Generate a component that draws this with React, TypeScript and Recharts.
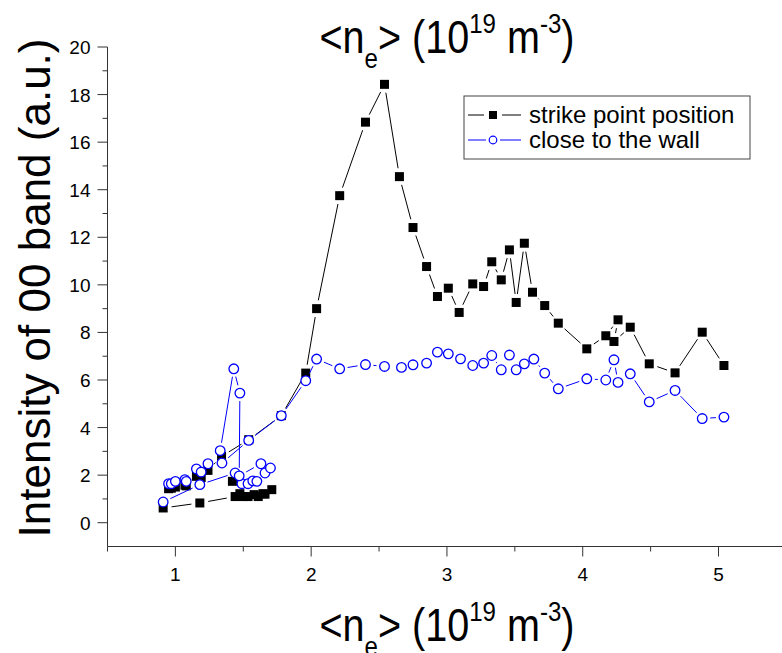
import React from "react";
import { ScatterChart, Scatter, XAxis, YAxis } from "recharts";

/* strike point position, main scan (black squares) */
const strikeX = [0.95, 0.97, 1.0, 1.07, 1.08, 1.155, 1.19, 1.24, 1.34, 1.54, 1.78, 1.96, 2.04, 2.21, 2.4, 2.54, 2.65, 2.75, 2.85, 2.93, 3.01, 3.09, 3.19, 3.27, 3.33, 3.4, 3.46, 3.51, 3.57, 3.63, 3.72, 3.82, 4.03, 4.17, 4.26, 4.23, 4.35, 4.49, 4.68, 4.88, 5.04];
const strikeY = [1.43, 1.45, 1.5, 1.58, 1.55, 1.95, 1.9, 2.2, 2.79, 3.49, 4.5, 6.29, 9.0, 13.75, 16.84, 18.43, 14.55, 12.41, 10.77, 9.51, 9.86, 8.84, 10.04, 9.93, 10.97, 10.21, 11.47, 9.26, 11.75, 9.69, 9.13, 8.39, 7.31, 7.86, 8.53, 7.62, 8.22, 6.68, 6.3, 8.01, 6.61];

/* strike point position, low density branch */
const strikeLowX = [0.91, 1.18, 1.44, 1.5, 1.535, 1.58, 1.61, 1.66, 1.71, 1.645, 1.475, 1.42];
const strikeLowY = [0.62, 0.83, 1.1, 1.1, 1.1, 1.18, 1.1, 1.2, 1.39, 1.22, 1.22, 1.74];

/* close to the wall, main scan (blue circles) */
const wallX = [0.95, 0.97, 1.0, 1.07, 1.08, 1.155, 1.19, 1.24, 1.343, 1.54, 1.78, 1.96, 2.04, 2.21, 2.4, 2.54, 2.665, 2.75, 2.85, 2.93, 3.01, 3.1, 3.19, 3.27, 3.33, 3.4, 3.46, 3.51, 3.57, 3.64, 3.72, 3.82, 4.03, 4.17, 4.23, 4.26, 4.35, 4.49, 4.68, 4.88, 5.04];
const wallY = [1.64, 1.64, 1.74, 1.81, 1.74, 2.26, 2.13, 2.48, 2.51, 3.46, 4.5, 5.97, 6.88, 6.47, 6.65, 6.57, 6.53, 6.64, 6.71, 7.17, 7.1, 6.89, 6.61, 6.71, 7.03, 6.43, 7.05, 6.43, 6.68, 6.88, 6.29, 5.63, 6.05, 6.0, 6.85, 5.9, 6.26, 5.08, 5.56, 4.38, 4.44];

/* close to the wall, low density branch */
const wallLowX = [0.91, 1.18, 1.44, 1.49, 1.535, 1.57, 1.6, 1.66, 1.7, 1.63, 1.47, 1.475, 1.43, 1.33];
const wallLowY = [0.87, 1.6, 2.09, 1.64, 1.64, 1.76, 1.74, 2.09, 2.3, 2.48, 1.97, 5.45, 6.47, 3.03];

const xTicks = [0.5, 1, 1.5, 2, 2.5, 3, 3.5, 4, 4.5, 5];
const yTicks = [0, 1, 2, 3, 4, 5, 6, 7, 8, 9, 10, 11, 12, 13, 14, 15, 16, 17, 18, 19, 20];

const FONT = "'Liberation Sans', Arial, Helvetica, sans-serif";
const AXIS = "#333";

const toPoints = (xs: number[], ys: number[]) => xs.map((x, i) => ({ x, y: ys[i] }));

/* Origin-style connecting line: each segment stops short of the symbols */
function gapLine(color: string, gap: number) {
  return (props: any) => {
    const pts = props.points || [];
    const segs: React.ReactElement[] = [];
    for (let i = 1; i < pts.length; i++) {
      const a = pts[i - 1];
      const b = pts[i];
      const dx = b.x - a.x;
      const dy = b.y - a.y;
      const len = Math.hypot(dx, dy);
      if (len <= 2 * gap + 1) continue;
      const ux = dx / len;
      const uy = dy / len;
      segs.push(
        <line key={i} x1={a.x + ux * gap} y1={a.y + uy * gap} x2={b.x - ux * gap} y2={b.y - uy * gap} stroke={color} strokeWidth={1} />
      );
    }
    return <g>{segs}</g>;
  };
}

const square = (p: any) => <rect x={p.cx - 4.5} y={p.cy - 4.5} width={9} height={9} fill="#000" />;
const circle = (p: any) => <circle cx={p.cx} cy={p.cy} r={4.8} fill="#fff" stroke="#0000FF" strokeWidth={1.3} />;

function XTick({ x, y, payload }: any) {
  const v = payload.value;
  const major = Number.isInteger(v);
  return (
    <g>
      <line x1={x} x2={x} y1={y} y2={y + (major ? 10 : 5)} stroke={AXIS} />
      {major && (
        <text x={x} y={y + 34} textAnchor="middle" fontSize={19} fontFamily={FONT} fill="#000">
          {v}
        </text>
      )}
    </g>
  );
}

function YTick({ x, y, payload }: any) {
  const v = payload.value;
  const major = v % 2 === 0;
  return (
    <g>
      <line x1={x - (major ? 10 : 5)} x2={x} y1={y} y2={y} stroke={AXIS} />
      {major && (
        <text x={x - 17} y={y + 7} textAnchor="end" fontSize={19} fontFamily={FONT} fill="#000">
          {v}
        </text>
      )}
    </g>
  );
}

/* the density label, used both above and below the plot */
function DensityLabel({ y }: { y: number }) {
  return (
    <text transform={`translate(447 ${y}) scale(0.86 1)`} textAnchor="middle" fontSize={46} fontFamily={FONT} fill="#000">
      {"<n"}
      <tspan fontSize={28} dy={15}>e</tspan>
      <tspan dy={-15}>{"> (10"}</tspan>
      <tspan fontSize={28} dy={-20}>19</tspan>
      <tspan dy={20}>{" m"}</tspan>
      <tspan fontSize={28} dy={-20}>-3</tspan>
      <tspan dy={20}>)</tspan>
    </text>
  );
}

export default function App() {
  return (
    <div style={{ position: "relative", width: 782, height: 653, overflow: "hidden", background: "#fff" }}>
      <style>{"body{margin:0;overflow:hidden;}"}</style>
      <ScatterChart width={800} height={653} margin={{ top: 47, right: 13.6, bottom: 76.5, left: 47.5 }}>
        <XAxis
          type="number"
          dataKey="x"
          domain={[0.5, 5.5]}
          ticks={xTicks}
          interval={0}
          height={30}
          tickSize={0}
          tickMargin={0}
          tickLine={false}
          axisLine={{ stroke: AXIS, strokeWidth: 1 }}
          tick={<XTick />}
        />
        <YAxis
          type="number"
          dataKey="y"
          domain={[-1, 20]}
          ticks={yTicks}
          interval={0}
          width={60}
          tickSize={0}
          tickMargin={0}
          tickLine={false}
          axisLine={{ stroke: AXIS, strokeWidth: 1 }}
          tick={<YTick />}
        />
        <Scatter data={toPoints(strikeLowX, strikeLowY)} fill="#000" shape={square} line={gapLine("#000", 8.5)} lineType="joint" isAnimationActive={false} />
        <Scatter data={toPoints(strikeX, strikeY)} fill="#000" shape={square} line={gapLine("#000", 8.5)} lineType="joint" isAnimationActive={false} />
        <Scatter data={toPoints(wallLowX, wallLowY)} fill="#0000FF" shape={circle} line={gapLine("#0000FF", 8)} lineType="joint" isAnimationActive={false} />
        <Scatter data={toPoints(wallX, wallY)} fill="#0000FF" shape={circle} line={gapLine("#0000FF", 8)} lineType="joint" isAnimationActive={false} />
      </ScatterChart>

      <svg width={782} height={653} style={{ position: "absolute", left: 0, top: 0, pointerEvents: "none" }}>
        <DensityLabel y={53} />
        <DensityLabel y={641} />
        <text transform="translate(50 288) rotate(-90)" textAnchor="middle" fontSize={44} fontFamily={FONT} fill="#000">
          Intensity of 00 band (a.u.)
        </text>

        {/* legend */}
        <rect x={464} y={96} width={286} height={63} fill="#fff" stroke="#444" strokeWidth={1} />
        <line x1={468} x2={484} y1={115} y2={115} stroke="#000" />
        <rect x={489} y={111} width={8} height={8} fill="#000" />
        <line x1={502} x2={521} y1={115} y2={115} stroke="#000" />
        <text x={529} y={123} fontSize={24} fontFamily={FONT} fill="#000">strike point position</text>
        <line x1={468} x2={486} y1={140} y2={140} stroke="#0000FF" />
        <circle cx={493} cy={140} r={3.8} fill="#fff" stroke="#0000FF" strokeWidth={1.2} />
        <line x1={500} x2={521} y1={140} y2={140} stroke="#0000FF" />
        <text x={529} y={148} fontSize={24} fontFamily={FONT} fill="#000">close to the wall</text>
      </svg>
    </div>
  );
}
